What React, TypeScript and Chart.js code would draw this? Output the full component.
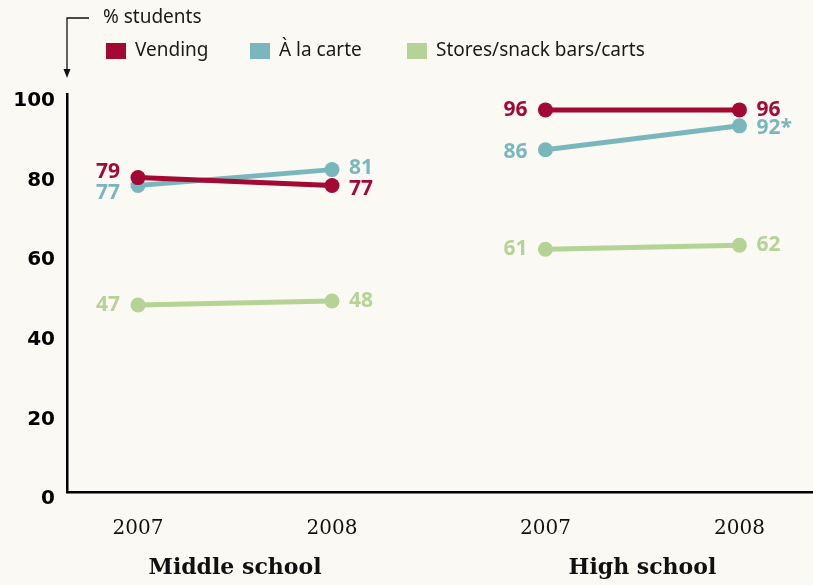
import React, { useEffect, useRef } from "react";
import { Chart, registerables } from "chart.js";
Chart.register(...registerables);

// ---- data ----
const yearLabels = ["2007", "2008", "2007", "2008"];
const groupLabels = ["Middle school", "High school"];
const seriesNames = ["Vending", "À la carte", "Stores/snack bars/carts"];
const vending = [79, 77, 96, 96];
const aLaCarte = [77, 81, 86, 92];
const stores = [47, 48, 61, 62];
const valueLabels = [
  ["79", "77", "96", "96"],
  ["77", "81", "86", "92*"],
  ["47", "48", "61", "62"],
];
const yTicks = [0, 20, 40, 60, 80, 100];
const axisTitle = "% students";

// ---- layout / style ----
const xSlots = [0, 1, 2.1, 3.1];
const colors = ["#a20a34", "#7ab7bd", "#b4d394"];
const labelShift = [
  [-6, 3, 0, 0],
  [7, -2, 2, 2],
  [0, 0, 0, 0],
];
const legendX = [106, 250, 407];
const BG = "#faf9f4";

const series = [vending, aLaCarte, stores];

const annotate = {
  id: "annotate",
  beforeDraw(chart: any) {
    const { ctx, width, height } = chart;
    ctx.save();
    ctx.fillStyle = BG;
    ctx.fillRect(0, 0, width, height);
    ctx.restore();
  },
  afterDatasetsDraw(chart: any) {
    const { ctx } = chart;
    ctx.save();
    ctx.font = "bold 21px 'Open Sans', Lato, sans-serif";
    ctx.textBaseline = "middle";
    series.forEach((_, d) => {
      const meta = chart.getDatasetMeta(d);
      meta.data.forEach((el: any, i: number) => {
        const left = i % 2 === 0;
        ctx.fillStyle = colors[d];
        ctx.textAlign = left ? "right" : "left";
        ctx.fillText(valueLabels[d][i], left ? el.x - 18 : el.x + 17, el.y + labelShift[d][i]);
      });
    });
    ctx.restore();
  },
  afterDraw(chart: any) {
    const { ctx } = chart;
    const xs = chart.scales.x;
    ctx.save();
    // group labels
    ctx.fillStyle = "#111";
    ctx.font = "bold 22px 'DejaVu Serif', serif";
    ctx.textAlign = "center";
    ctx.textBaseline = "middle";
    groupLabels.forEach((g, k) => {
      const a = xs.getPixelForValue(xSlots[k * 2]);
      const b = xs.getPixelForValue(xSlots[k * 2 + 1]);
      ctx.fillText(g, (a + b) / 2, 568);
    });
    // axis title + arrow
    ctx.font = "19px 'Noto Sans', sans-serif";
    ctx.textAlign = "left";
    ctx.fillStyle = "#1a1a1a";
    ctx.fillText(axisTitle, 103, 18);
    const ax = chart.chartArea.left;
    ctx.strokeStyle = "#111";
    ctx.lineWidth = 1.3;
    ctx.beginPath();
    ctx.moveTo(89, 18);
    ctx.lineTo(ax, 18);
    ctx.lineTo(ax, 72);
    ctx.stroke();
    ctx.fillStyle = "#111";
    ctx.beginPath();
    ctx.moveTo(ax - 3.5, 69);
    ctx.lineTo(ax + 3.5, 69);
    ctx.lineTo(ax, 78);
    ctx.closePath();
    ctx.fill();
    // legend
    seriesNames.forEach((n, k) => {
      ctx.fillStyle = colors[k];
      ctx.fillRect(legendX[k], 43, 20, 16);
      ctx.fillStyle = "#1a1a1a";
      ctx.fillText(n, legendX[k] + 29, 51);
    });
    ctx.restore();
  },
};

export default function App() {
  const ref = useRef<HTMLCanvasElement>(null);
  useEffect(() => {
    document.body.style.margin = "0";
    document.body.style.background = BG;
    if (!ref.current) return;
    const chart = new Chart(ref.current, {
      type: "line",
      data: {
        datasets: series.map((s, d) => ({
          label: seriesNames[d],
          data: s.map((y, i) => ({ x: xSlots[i], y })),
          borderColor: colors[d],
          backgroundColor: colors[d],
          pointBackgroundColor: colors[d],
          pointBorderWidth: 0,
          pointRadius: 7.5,
          borderWidth: 5,
          fill: false,
          tension: 0,
          clip: false as any,
          segment: {
            borderColor: (c: any) => (c.p0DataIndex === 1 ? "rgba(0,0,0,0)" : undefined),
            borderWidth: (c: any) => (c.p0DataIndex === 1 ? 0 : undefined),
          },
        })),
      },
      options: {
        animation: false,
        responsive: false,
        layout: { autoPadding: false, padding: { top: 94, right: 1, left: 0, bottom: 0 } },
        plugins: { legend: { display: false }, tooltip: { enabled: false } },
        scales: {
          x: {
            type: "linear",
            min: -0.366,
            max: 3.474,
            grid: { display: false, drawTicks: false, tickLength: 0 },
            border: { display: true, color: "#000", width: 2.5 },
            afterBuildTicks: (s: any) => {
              s.ticks = xSlots.map((v) => ({ value: v }));
            },
            afterFit: (s: any) => {
              s.height = 93;
              s.paddingLeft = 0;
              s.paddingRight = 0;
            },
            ticks: {
              autoSkip: false,
              maxRotation: 0,
              padding: 25,
              color: "#111",
              font: { family: "'DejaVu Serif', serif", size: 20 },
              callback: (_v: any, i: number) => yearLabels[i],
            },
          },
          y: {
            min: 0,
            max: 100,
            grid: { display: false, drawTicks: false, tickLength: 0 },
            border: { display: true, color: "#000", width: 2.5 },
            afterBuildTicks: (s: any) => {
              s.ticks = yTicks.map((v) => ({ value: v }));
            },
            afterFit: (s: any) => {
              s.width = 67;
              s.paddingTop = 0;
              s.paddingBottom = 0;
            },
            ticks: {
              padding: 12,
              labelOffset: 7,
              color: "#000",
              font: { family: "'DejaVu Sans', sans-serif", size: 20, weight: "bold" },
            },
          },
        },
      },
      plugins: [annotate],
    });
    return () => chart.destroy();
  }, []);
  return (
    <div style={{ position: "absolute", left: 0, top: 0, width: 813, height: 585, background: BG }}>
      <canvas ref={ref} width={813} height={585} />
    </div>
  );
}
